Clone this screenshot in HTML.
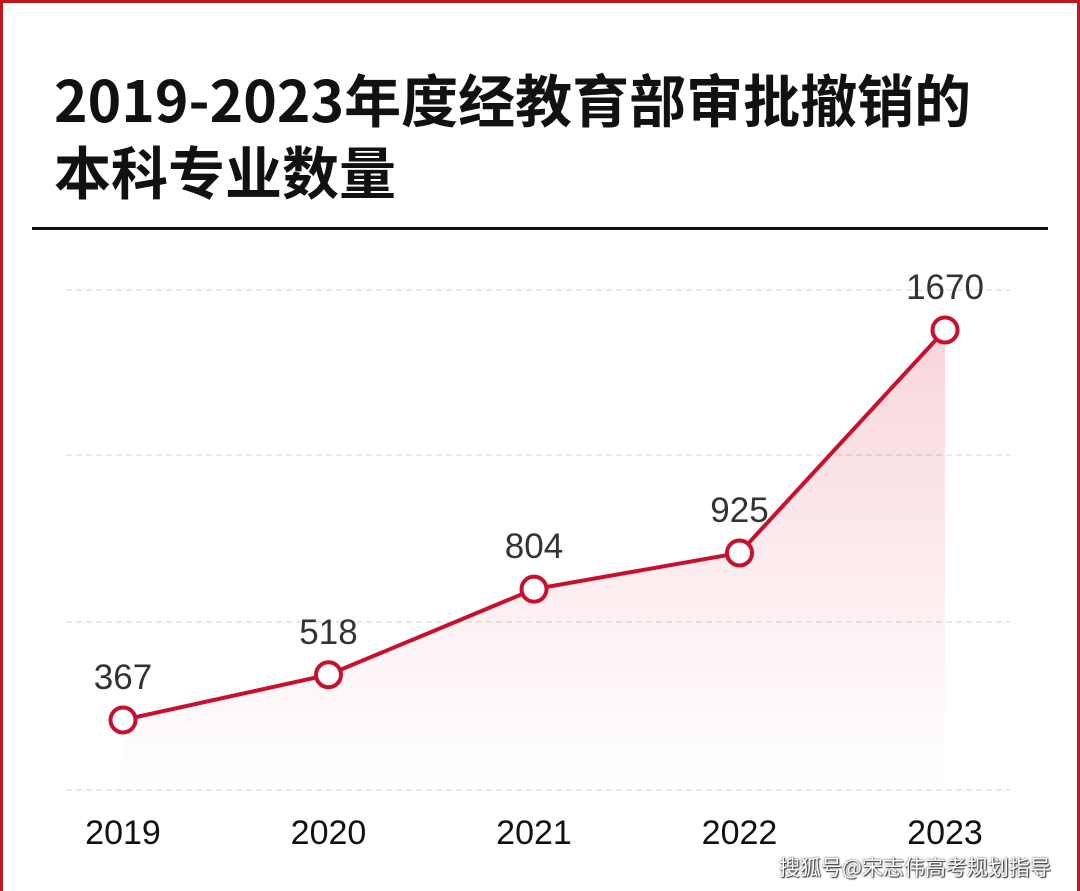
<!DOCTYPE html>
<html><head><meta charset="utf-8"><style>
html,body{margin:0;width:1080px;height:891px;overflow:hidden;background:#fff;font-family:"Liberation Sans","Noto Sans CJK SC",sans-serif}
#frame{position:absolute;left:0;top:0;width:1080px;height:891px;border:3px solid #c0161e;border-bottom:none;box-sizing:border-box}
h1{position:absolute;left:54px;top:62px;margin:0;font-size:57px;line-height:72px;font-weight:bold;color:#111;font-family:"Noto Sans CJK SC","Liberation Sans",sans-serif;letter-spacing:0px;white-space:nowrap}
#rule{position:absolute;left:32px;top:227px;width:1016px;height:3px;background:#111}
#wm{position:absolute;left:779px;top:852px;font-size:21px;color:#fff;text-shadow:0 0 2px #333,1px 1px 1px #333;font-family:"Noto Sans CJK SC",sans-serif}
</style></head><body>
<div id="frame"></div>
<h1>2019-2023年度经教育部审批撤销的<br>本科专业数量</h1>
<div id="rule"></div>
<svg id="chart" width="1080" height="891" style="position:absolute;left:0;top:0">
<defs><linearGradient id="fill" x1="0" y1="0" x2="0" y2="1"><stop offset="0" stop-color="#e0435a" stop-opacity="0.22"/><stop offset="0.7" stop-color="#e0435a" stop-opacity="0.06"/><stop offset="1" stop-color="#e0435a" stop-opacity="0"/></linearGradient></defs>
</svg>
<div id="wm">搜狐号@宋志伟高考规划指导</div>
<script>
const years=["2019","2020","2021","2022","2023"];
const values=[367,518,804,925,1670];
const gridTicks=[0,560,1120,1680];
const svg=document.getElementById('chart');
const NS='http://www.w3.org/2000/svg';
const xPos=i=>123+i*205.5;
const yPos=v=>829.8-v*0.2993;
const gridY=[790,622,455,290];
function mk(t,a){const e=document.createElementNS(NS,t);for(const k in a)e.setAttribute(k,a[k]);svg.appendChild(e);return e;}
gridY.forEach((gy)=>{const g=mk('line',{x1:66,x2:1010,y1:gy,y2:gy,stroke:'#e2e2e2','stroke-width':1.5,'stroke-dasharray':'6 4'});

});
let d='M'+values.map((v,i)=>xPos(i)+','+yPos(v)).join(' L');
const area=mk('path',{d:d+` L${xPos(values.length-1)},790 L${xPos(0)},790 Z`,fill:'url(#fill)'});


const line=mk('path',{d:d,fill:'none',stroke:'#c8102e','stroke-width':4});


values.forEach((v,i)=>{
const c=mk('circle',{cx:xPos(i),cy:yPos(v),r:12.5,fill:'#fff',stroke:'#c8102e','stroke-width':4});


const t=mk('text',{x:xPos(i),y:yPos(v)-31,'text-anchor':'middle','font-size':35,fill:'#333'});t.textContent=v;


const xl=mk('text',{x:xPos(i),y:844,'text-anchor':'middle','font-size':34,fill:'#111'});xl.textContent=years[i];


});
</script>
</body></html>
